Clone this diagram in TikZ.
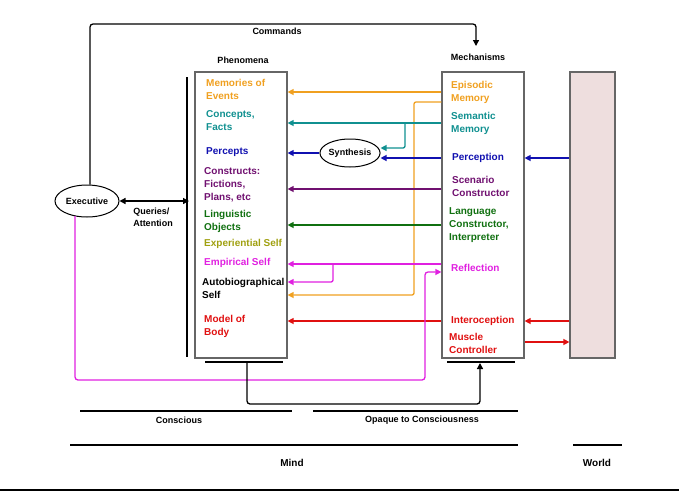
\documentclass[tikz,border=0pt]{standalone}
\usepackage{fontspec}
\setmainfont{Liberation Sans}
\usetikzlibrary{arrows.meta,shapes.geometric}
\definecolor{cor}{HTML}{F0A020}
\definecolor{cte}{HTML}{109090}
\definecolor{cnv}{HTML}{1010B0}
\definecolor{cpu}{HTML}{701070}
\definecolor{cgr}{HTML}{107010}
\definecolor{col}{HTML}{A0A010}
\definecolor{cmg}{HTML}{E020E0}
\definecolor{crd}{HTML}{E01010}
\definecolor{wfill}{HTML}{EEDEDE}
\begin{document}
\begin{tikzpicture}[x=1pt,y=-1pt,
 every node/.style={font=\bfseries\fontsize{10}{13}\selectfont},
 sm/.style={font=\bfseries\fontsize{9}{12}\selectfont},
 box/.style={draw=gray!80!black,line width=1.2pt,inner sep=0},
 lbl/.style={align=left,anchor=west,inner sep=0},
 arr/.style={line width=1.3pt,-{Triangle[length=6pt,width=6pt]}},
 ln/.style={line width=1.3pt},
 thk/.style={line width=2.2pt}]
\useasboundingbox (0,0) rectangle (679,493);
\node[box,minimum width=92,minimum height=286] (phen) at (241,215) {};
\node[box,minimum width=82,minimum height=286] (mech) at (483,215) {};
\node[box,fill=wfill,minimum width=45,minimum height=286] (world) at (592.5,215) {};
\node[sm,draw,ellipse,line width=1pt,minimum width=64,minimum height=32,inner sep=0] (exec) at (87,201) {Executive};
\node[sm,draw,ellipse,line width=1pt,minimum width=58,minimum height=28,inner sep=0] (syn) at (350,153) {Synthesis};
\node[sm] (phl) at (243,60) {Phenomena};
\node[sm] (mel) at (478,57) {Mechanisms};
\draw[ln] (187,77) -- (187,357);
% texts phen
\node[lbl,text=cor] at (206,89) {Memories of\\Events};
\node[lbl,text=cte] at (206,121) {Concepts,\\Facts};
\node[lbl,text=cnv] at (206,152) {Percepts};
\node[lbl,text=cpu] at (204,185) {Constructs:\\Fictions,\\Plans, etc};
\node[lbl,text=cgr] at (204,221) {Linguistic\\Objects};
\node[lbl,text=col] at (204,244) {Experiential Self};
\node[lbl,text=cmg] at (204,263) {Empirical Self};
\node[lbl,text=black] at (202,288) {Autobiographical\\Self};
\node[lbl,text=crd] at (204,326) {Model of\\Body};
% texts mech
\node[lbl,text=cor] at (451,92) {Episodic\\Memory};
\node[lbl,text=cte] at (451,123) {Semantic\\Memory};
\node[lbl,text=cnv] at (452,158) {Perception};
\node[lbl,text=cpu] at (452,186) {Scenario\\Constructor};
\node[lbl,text=cgr] at (449,225) {Language\\Constructor,\\Interpreter};
\node[lbl,text=cmg] at (451,268) {Reflection};
\node[lbl,text=crd] at (451,321) {Interoception};
\node[lbl,text=crd] at (449,343) {Muscle\\Controller};
% arrows
\draw[arr,cor] (mech.west|-{(0,92)}) -- (phen.east|-{(0,92)});
\draw[arr,cor,rounded corners=2pt] (mech.west|-{(0,102)}) -- (414,102) -- (414,295) -- (phen.east|-{(0,295)});
\draw[arr,cte] (mech.west|-{(0,123)}) -- (phen.east|-{(0,123)});
\draw[arr,cte,rounded corners=2pt] (405,123) -- (405,148) -- (syn.east|-{(0,148)});
\draw[arr,cnv] (mech.west|-{(0,158)}) -- (syn.east|-{(0,158)});
\draw[arr,cnv] (syn.west) -- (phen.east|-syn.west);
\draw[arr,cpu] (mech.west|-{(0,189)}) -- (phen.east|-{(0,189)});
\draw[arr,cgr] (mech.west|-{(0,225)}) -- (phen.east|-{(0,225)});
\draw[arr,cmg] (mech.west|-{(0,264)}) -- (phen.east|-{(0,264)});
\draw[arr,cmg,rounded corners=2pt] (333,264) -- (333,282) -- (phen.east|-{(0,282)});
\draw[arr,crd] (mech.west|-{(0,321)}) -- (phen.east|-{(0,321)});
\draw[arr,cnv] (world.west|-{(0,158)}) -- (mech.east|-{(0,158)});
\draw[arr,crd] (world.west|-{(0,321)}) -- (mech.east|-{(0,321)});
\draw[arr,crd] (mech.east|-{(0,342)}) -- (world.west|-{(0,342)});
% executive connections
\draw[arr,rounded corners=3pt] (exec.north-|{(90,0)}) -- (90,24) -- (476,24) -- (476,46);
\node[sm] at (277,31) {Commands};
\draw[line width=1.3pt,{Triangle[length=6pt,width=6pt]}-{Triangle[length=6pt,width=6pt]}] (exec.east) -- (189,201);
\node[sm,align=left] at (153,217) {Queries/\\Attention};
\draw[arr,cmg,rounded corners=3pt] (75,216) -- (75,380) -- (425,380) -- (425,272) -- (mech.west|-{(0,272)});
% bottom
\draw[ln] (205,362) -- (283,362);
\draw[ln] (447,362) -- (515,362);
\draw[arr,rounded corners=3pt] (247,362) -- (247,404) -- (480,404) -- (480,363);
\draw[thk] (80,411) -- (292,411);
\draw[thk] (313,411) -- (518,411);
\node[sm] at (179,420) {Conscious};
\node[sm] at (422,420) {Opaque to Consciousness};
\draw[line width=2.8pt] (70,445) -- (518,445);
\draw[line width=2.8pt] (573,445) -- (622,445);
\node at (292,463) {Mind};
\node at (597,463) {World};
\draw[ln] (0,490) -- (679,490);
\end{tikzpicture}
\end{document}
